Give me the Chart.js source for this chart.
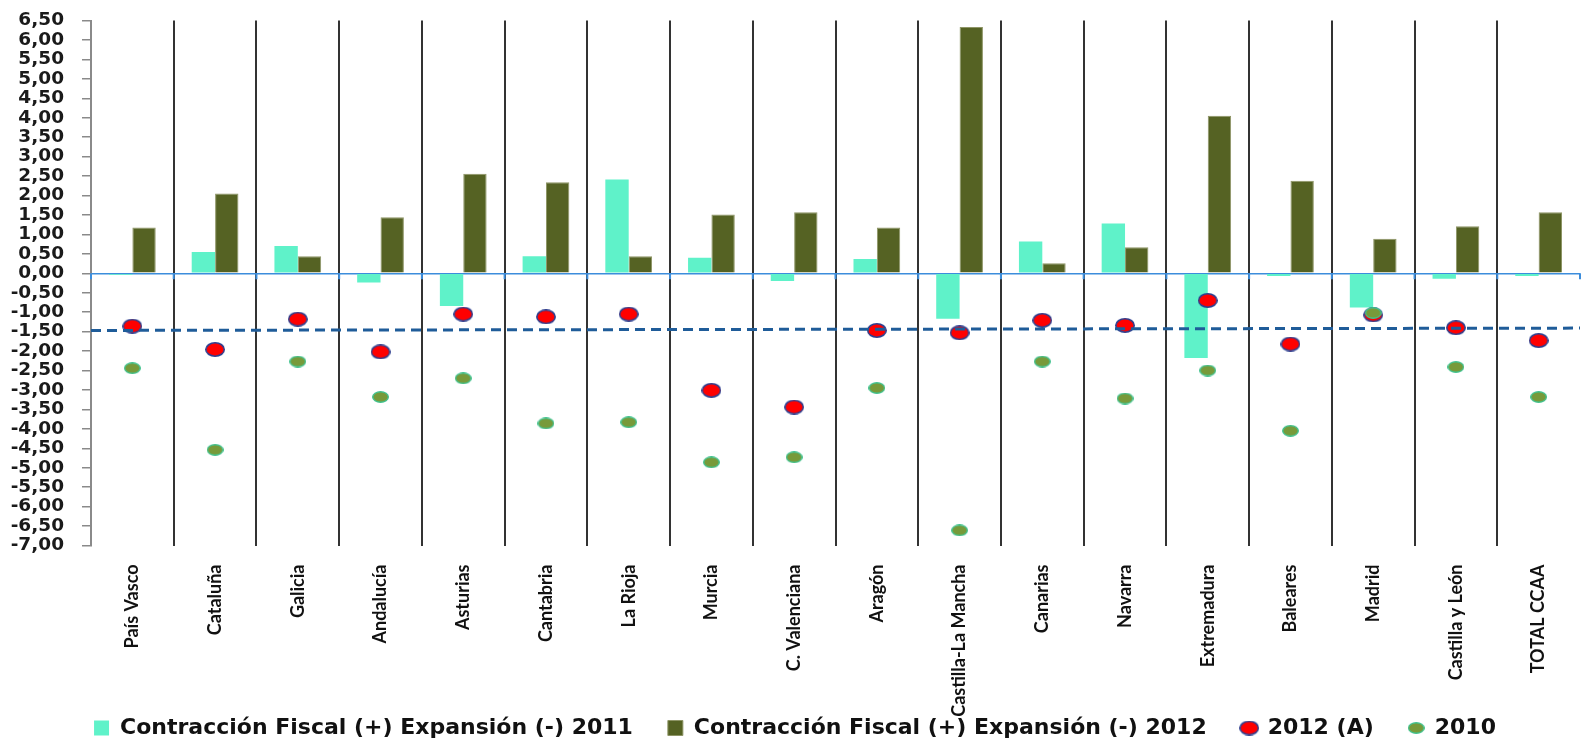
<!DOCTYPE html>
<html>
<head>
<meta charset="utf-8">
<script src="https://cdn.jsdelivr.net/npm/chart.js@4.4.1/dist/chart.umd.min.js"></script>
<style>
html,body{margin:0;padding:0;background:#fff;}
#wrap{width:1590px;height:741px;}
</style>
</head>
<body>
<div id="wrap"><canvas id="c" width="1590" height="741"></canvas></div>
<script>
const categories = ["País Vasco","Cataluña","Galicia","Andalucía","Asturias","Cantabria","La Rioja","Murcia","C. Valenciana","Aragón","Castilla-La Mancha","Canarias","Navarra","Extremadura","Baleares","Madrid","Castilla y León","TOTAL CCAA"];
const contraccion2011 = [-0.04, 0.55, 0.70, -0.24, -0.84, 0.44, 2.41, 0.40, -0.20, 0.37, -1.17, 0.82, 1.28, -2.18, -0.07, -0.88, -0.14, -0.07];
const contraccion2012 = [1.18, 2.05, 0.44, 1.44, 2.56, 2.34, 0.44, 1.51, 1.57, 1.18, 6.33, 0.26, 0.67, 4.05, 2.38, 0.89, 1.21, 1.57];
const deficit2012A = [-1.36, -1.96, -1.18, -2.02, -1.05, -1.12, -1.05, -3.01, -3.44, -1.47, -1.53, -1.21, -1.34, -0.70, -1.82, -1.07, -1.40, -1.73];
const deficit2010 = [-2.44, -4.54, -2.27, -3.18, -2.70, -3.86, -3.83, -4.86, -4.73, -2.95, -6.61, -2.27, -3.22, -2.50, -4.05, -1.02, -2.41, -3.18];
const referenceLine = [-1.47, -1.41];
const yTickValues = [6.5,6,5.5,5,4.5,4,3.5,3,2.5,2,1.5,1,0.5,0,-0.5,-1,-1.5,-2,-2.5,-3,-3.5,-4,-4.5,-5,-5.5,-6,-6.5,-7];
const seriesNames = ["Contracción Fiscal (+) Expansión (-) 2011","Contracción Fiscal (+) Expansión (-) 2012","2012 (A)","2010"];

function ellipseImg(w, h, fill, stroke, lw) {
  const c = document.createElement('canvas');
  c.width = w; c.height = h;
  const g = c.getContext('2d');
  g.beginPath();
  g.ellipse(w/2, h/2, w/2 - lw/2, h/2 - lw/2, 0, 0, Math.PI*2);
  g.fillStyle = fill; g.fill();
  g.lineWidth = lw; g.strokeStyle = stroke; g.stroke();
  return c;
}
const redDot = ellipseImg(20, 15, '#ff0000', '#2e3f8f', 1.6);
const greenDot = ellipseImg(17, 12, '#779a3a', '#3fc28e', 1.4);

const legendFit = {
  id: 'legendFit',
  beforeLayout(chart) {
    const lg = chart.legend;
    if (lg && !lg._patched) {
      const f = lg.fit;
      lg.fit = function() { f.call(this); this.height -= 8; };
      lg._patched = true;
    }
  }
};

// zero-axis tick marks (blue) at category boundaries, drawn from the x scale
const zeroTicks = {
  id: 'zeroTicks',
  afterDraw(chart) {
    const {ctx, scales: {x, y}} = chart;
    const y0 = y.getPixelForValue(0);
    ctx.save();
    ctx.strokeStyle = '#3c8ddc';
    ctx.lineWidth = 2;
    ctx.beginPath();
    for (let i = 0; i <= categories.length; i++) {
      const px = x.getPixelForValue(i - 0.5);
      ctx.moveTo(px, y0);
      ctx.lineTo(px, y0 + 6);
    }
    ctx.stroke();
    ctx.restore();
  }
};

// dashed reference line across the plot, positioned by the y scale
const refLine = {
  id: 'refLine',
  afterDatasetsDraw(chart) {
    const {ctx, chartArea, scales: {y}} = chart;
    ctx.save();
    ctx.strokeStyle = '#1f5c99';
    ctx.lineWidth = 3;
    ctx.setLineDash([10, 6]);
    ctx.beginPath();
    ctx.moveTo(chartArea.left, y.getPixelForValue(referenceLine[0]));
    ctx.lineTo(chartArea.right, y.getPixelForValue(referenceLine[1]));
    ctx.stroke();
    ctx.restore();
  }
};

new Chart(document.getElementById('c'), {
  type: 'bar',
  data: {
    labels: categories,
    datasets: [
      { type: 'bar', label: seriesNames[0], data: contraccion2011, backgroundColor: '#5ff2c9', borderWidth: 0, pointStyle: 'rect', order: 3 },
      { type: 'bar', label: seriesNames[1], data: contraccion2012, backgroundColor: '#556223', borderColor: '#8e9566', borderWidth: 1, pointStyle: 'rect', order: 3 },
      { type: 'line', label: seriesNames[2], data: deficit2012A, showLine: false, pointStyle: redDot, pointRadius: 9, order: 2 },
      { type: 'line', label: seriesNames[3], data: deficit2010, showLine: false, pointStyle: greenDot, pointRadius: 8, order: 1 }
    ]
  },
  options: {
    responsive: false,
    animation: false,
    layout: { padding: { top: 20.5, right: 0, bottom: 0, left: 0 } },
    datasets: { bar: { categoryPercentage: 0.565, barPercentage: 1.0 } },
    scales: {
      x: {
        type: 'category',
        offset: true,
        border: { display: false },
        grid: {
          offset: true,
          drawTicks: false,
          lineWidth: 2,
          color: c => (c.index === 0 || c.index === undefined) ? 'rgba(0,0,0,0)' : '#333333'
        },
        ticks: {
          maxRotation: 90, minRotation: 90, autoSkip: false, padding: 19,
          color: '#111111',
          font: { family: 'Lato', weight: 'bold', size: 18 }
        },
        afterFit: s => { s.height = 136.5; s._computeLabelArea = () => null; }
      },
      y: {
        type: 'linear',
        min: -7, max: 6.5,
        border: { display: true, color: '#8a8a8a', width: 2 },
        grid: {
          drawOnChartArea: true,
          drawTicks: true,
          tickLength: 9,
          tickColor: '#8a8a8a',
          tickWidth: 1.5,
          color: c => (c.tick && c.tick.value === 0) ? '#3c8ddc' : 'rgba(0,0,0,0)',
          lineWidth: 1.5
        },
        afterBuildTicks: s => { s.ticks = yTickValues.map(v => ({ value: v })); },
        ticks: {
          autoSkip: false,
          padding: 18,
          color: '#1a1a1a',
          font: { family: 'DejaVu Sans', weight: 'bold', size: 18.5 },
          callback: v => Number(v).toFixed(2).replace('.', ',')
        },
        afterFit: s => { s.width = 91; s.paddingTop = 10; s.paddingBottom = 10; }
      }
    },
    plugins: {
      tooltip: { enabled: false },
      legend: {
        position: 'bottom',
        labels: {
          usePointStyle: true,
          boxWidth: 15, boxHeight: 15,
          padding: 35,
          color: '#111111',
          font: { family: 'DejaVu Sans', weight: 'bold', size: 22 },
          sort: (a, b) => a.datasetIndex - b.datasetIndex
        }
      }
    }
  },
  plugins: [legendFit, zeroTicks, refLine]
});
</script>
</body>
</html>
